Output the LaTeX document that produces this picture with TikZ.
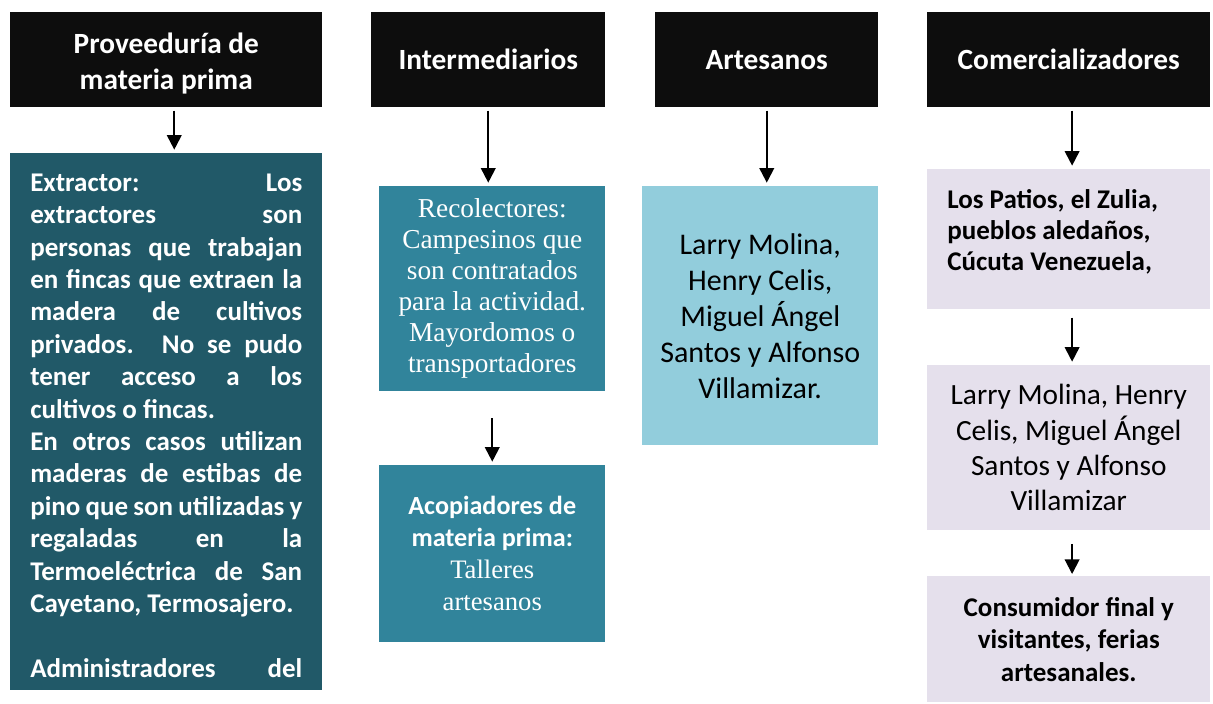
\documentclass[tikz,border=0pt]{standalone}
\usepackage{fontspec}
\setmainfont{Carlito}
\newfontfamily\timesf{Liberation Serif}
\usepackage{xcolor}
\usepackage{tikz}
\usetikzlibrary{arrows.meta, positioning}
\definecolor{mynegro}{RGB}{13, 13, 13}
\definecolor{mytealosc}{RGB}{33, 89, 104}
\definecolor{myteal}{RGB}{49, 132, 155}
\definecolor{myceleste}{RGB}{146, 205, 220}
\definecolor{mylila}{RGB}{229, 224, 236}

\begin{document}
\begin{tikzpicture}[x=0.75pt, y=-0.75pt,
    cabecera/.style={anchor=north west, fill=mynegro, text=white, inner sep=0pt, align=flush center, minimum height=71.25pt, font=\bfseries\fontsize{22}{27}\selectfont},
    caja/.style={anchor=north west, inner sep=0pt, align=flush center},
    flecha/.style={-{Triangle[width=11pt, length=11pt]}, line width=1.5pt, shorten <=2.25pt, shorten >=2.5pt}]
    \useasboundingbox (0, 0) rectangle (1213, 703);

    % encabezados
    \node[cabecera, text width=234pt, text height=21pt] (hdA) at (10, 12) {Proveeduría de\\materia prima};
    \node[cabecera, text width=175.5pt] (hdB) at (371, 12) {Intermediarios};
    \node[cabecera, text width=167.25pt] (hdC) at (655, 12) {Artesanos};
    \node[cabecera, text width=212.25pt] (hdD) at (927, 12) {Comercializadores};

    % proveeduria
    \node[caja, fill=mytealosc, text=white, text width=204pt, text height=19pt, inner xsep=15pt, minimum height=402.75pt, align=justify, font=\bfseries\fontsize{20.25}{24.3}\selectfont] (exA) at (10, 153)
        {Extractor: Los\linebreak extractores son\linebreak personas que trabajan\linebreak en fincas que extraen la\linebreak madera de cultivos\linebreak privados. No se pudo\linebreak tener acceso a los\linebreak cultivos o fincas.\\
         En otros casos utilizan\linebreak maderas de estibas de\linebreak pino que son utilizadas y\linebreak regaladas en la\linebreak Termoeléctrica de San\linebreak Cayetano, Termosajero.\\[24.3pt]
         Administradores\hspace{0pt plus 1filll}del};

    % intermediarios
    \node[caja, fill=myteal, text=white, text width=169.5pt, minimum height=153.75pt, font=\timesf\fontsize{20.5}{23.25}\selectfont] (reB) at (379, 186)
        {Recolectores:\\Campesinos que\\son contratados\\para la actividad.\\Mayordomos o\\transportadores};
    \node[caja, fill=myteal, text=white, text width=169.5pt, minimum height=132.75pt, font=\bfseries\fontsize{19.6}{24}\selectfont] (acB) at (379, 465)
        {Acopiadores de\\materia prima:\\\mdseries\timesf\fontsize{20}{24}\selectfont Talleres\\artesanos};

    % artesanos
    \node[caja, fill=myceleste, text width=177pt, minimum height=194.25pt, font=\fontsize{22.5}{27}\selectfont] (arC) at (642, 186)
        {Larry Molina,\\Henry Celis,\\Miguel Ángel\\Santos y Alfonso\\Villamizar.};

    % comercializadores
    \node[caja, fill=mylila, text width=182.25pt, text depth=60pt, inner xsep=15pt, align=flush left, minimum height=105pt, font=\bfseries\fontsize{20.25}{23.25}\selectfont] (coD1) at (927, 169)
        {Los Patios, el Zulia,\\pueblos aledaños,\\Cúcuta Venezuela,};
    \node[caja, fill=mylila, text width=212.25pt, minimum height=123.75pt, font=\fontsize{22}{26.5}\selectfont] (coD2) at (927, 365)
        {Larry Molina, Henry\\Celis, Miguel Ángel\\Santos y Alfonso\\Villamizar};
    \node[caja, fill=mylila, text width=212.25pt, minimum height=94.5pt, font=\bfseries\fontsize{20.25}{24.4}\selectfont] (coD3) at (927, 576)
        {Consumidor final y\\visitantes, ferias\\artesanales.};

    % flechas
    \draw[flecha] ([xshift=6pt]hdA.south) -- ([xshift=6pt]exA.north);
    \draw[flecha] (hdB.south) -- (hdB.south |- reB.north);
    \draw[flecha, shorten <=20pt] (reB.south) -- (acB.north);
    \draw[flecha] (hdC.south) -- (hdC.south |- arC.north);
    \draw[flecha] ([xshift=2.5pt]hdD.south) -- ([xshift=2.5pt]coD1.north);
    \draw[flecha, shorten <=6pt] ([xshift=2.5pt]coD1.south) -- ([xshift=2.5pt]coD2.north);
    \draw[flecha, shorten <=10pt, shorten >=1.5pt] ([xshift=2.5pt]coD2.south) -- ([xshift=2.5pt]coD3.north);
\end{tikzpicture}
\end{document}
